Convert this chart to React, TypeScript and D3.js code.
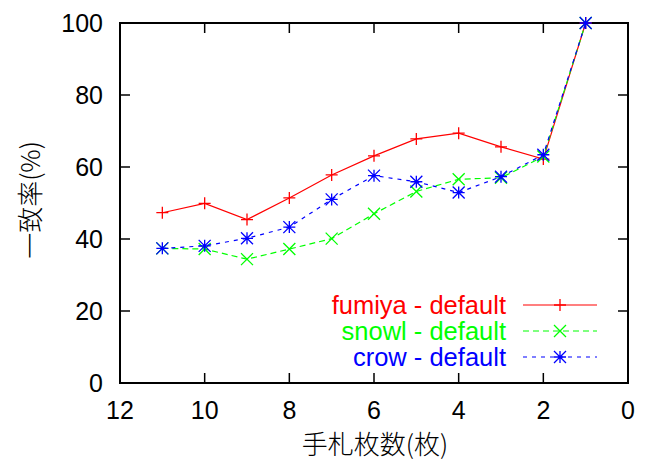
import React from "react";
import * as d3 from "d3";

const xs = [11, 10, 9, 8, 7, 6, 5, 4, 3, 2, 1];
const fumiya = [47.3, 49.9, 45.4, 51.4, 57.8, 63.1, 67.8, 69.4, 65.6, 62.2, 100];
const snowl = [37.4, 37.2, 34.4, 37.2, 40.1, 47.0, 53.2, 56.6, 57.0, 62.9, 100];
const crow = [37.4, 38.1, 40.2, 43.3, 51.0, 57.6, 55.9, 52.9, 57.3, 63.4, 100];
const xTicks = [12, 10, 8, 6, 4, 2, 0];
const yTicks = [0, 20, 40, 60, 80, 100];
const seriesNames = ["fumiya - default", "snowl - default", "crow - default"];
const seriesColors = ["#ff0000", "#00ff00", "#0000ff"];
const seriesDash = ["none", "6,4", "4,5"];
const seriesMarker = ["plus", "cross", "star"];

const W = 651, H = 461;
const L = 120, R = 628, T = 23, B = 383;
const font = "'Liberation Sans', Arial, sans-serif";
const cjk = "'Noto Sans CJK JP', sans-serif";

function Marker({ type, x, y, color }: { type: string; x: number; y: number; color: string }) {
  const s = 6;
  let d = "";
  if (type === "plus") d = `M${x - s},${y}H${x + s}M${x},${y - s}V${y + s}`;
  else if (type === "cross") d = `M${x - s},${y - s}L${x + s},${y + s}M${x - s},${y + s}L${x + s},${y - s}`;
  else d = `M${x - s},${y}H${x + s}M${x},${y - s}V${y + s}M${x - s},${y - s}L${x + s},${y + s}M${x - s},${y + s}L${x + s},${y - s}`;
  return <path d={d} stroke={color} strokeWidth={1.3} fill="none" />;
}

export default function App() {
  const x = d3.scaleLinear().domain([12, 0]).range([L, R]);
  const y = d3.scaleLinear().domain([0, 100]).range([B, T]);
  const data = [fumiya, snowl, crow];
  const line = d3.line<number>().x((_, i) => x(xs[i])).y((v) => y(v));
  const tl = 10;
  return (
    <svg width={W} height={H} style={{ position: "absolute", left: 0, top: 0, background: "#fff" }} fontFamily={font}>
      {yTicks.map((t) => (
        <g key={"y" + t}>
          <line x1={L} x2={L + tl} y1={y(t)} y2={y(t)} stroke="#000" strokeWidth={1.5} />
          <line x1={R} x2={R - tl} y1={y(t)} y2={y(t)} stroke="#000" strokeWidth={1.5} />
          <text x={103} y={y(t)} dy="0.36em" textAnchor="end" fontSize={25} fill="#000">{t}</text>
        </g>
      ))}
      {xTicks.map((t) => (
        <g key={"x" + t}>
          <line x1={x(t)} x2={x(t)} y1={B} y2={B - tl} stroke="#000" strokeWidth={1.5} />
          <line x1={x(t)} x2={x(t)} y1={T} y2={T + tl} stroke="#000" strokeWidth={1.5} />
          <text x={x(t)} y={419} textAnchor="middle" fontSize={25} fill="#000">{t}</text>
        </g>
      ))}
      <rect x={L} y={T} width={R - L} height={B - T} fill="none" stroke="#000" strokeWidth={2} />
      <text x={375} y={454} textAnchor="middle" fontSize={26} fontWeight={300} fill="#000" fontFamily={cjk}>手札枚数(枚)</text>
      <text transform={`translate(40,200) rotate(-90)`} textAnchor="middle" fontSize={26} fontWeight={300} fill="#000" fontFamily={cjk}>一致率(%)</text>
      {data.map((vals, si) => (
        <g key={si}>
          <path d={line(vals) || ""} fill="none" stroke={seriesColors[si]} strokeWidth={1.2} strokeDasharray={seriesDash[si]} />
          {vals.map((v, i) => (
            <Marker key={i} type={seriesMarker[si]} x={x(xs[i])} y={y(v)} color={seriesColors[si]} />
          ))}
        </g>
      ))}
      {seriesNames.map((n, si) => {
        const ly = 305 + si * 26;
        return (
          <g key={n}>
            <text x={506} y={ly} dy="0.36em" textAnchor="end" fontSize={25.5} fill={seriesColors[si]}>{n}</text>
            <line x1={523} x2={597} y1={ly} y2={ly} stroke={seriesColors[si]} strokeWidth={1.2} strokeDasharray={seriesDash[si]} />
            <Marker type={seriesMarker[si]} x={560} y={ly} color={seriesColors[si]} />
          </g>
        );
      })}
    </svg>
  );
}
